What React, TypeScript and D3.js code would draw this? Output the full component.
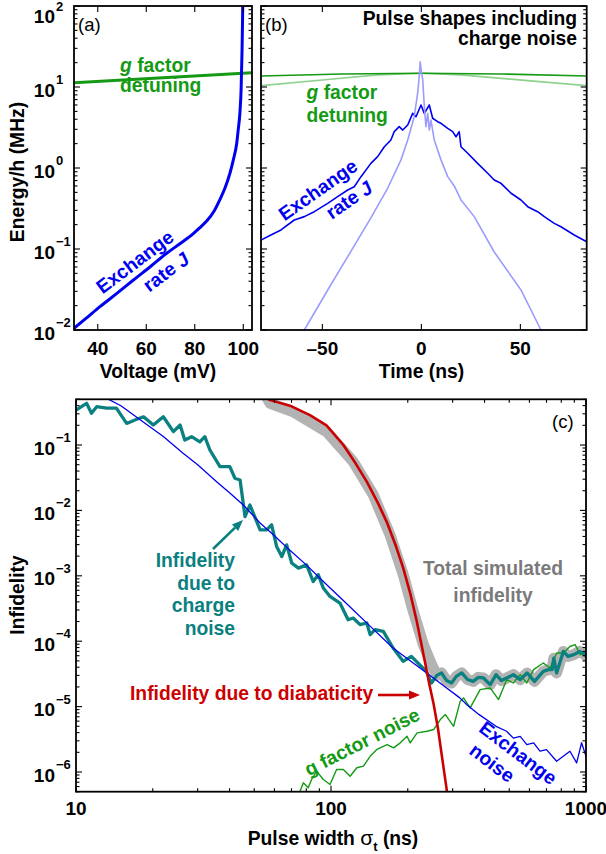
import * as d3 from 'd3';

const FONT = '"Liberation Sans", Arial, Helvetica, sans-serif';
const BLUE = '#0000f0';
const LIGHT_BLUE = '#9c9cff';
const GREEN = '#159a15';
const LIGHT_GREEN = '#8fd28f';
const TEAL = '#0b8080';
const RED = '#cc0000';
const GRAY = '#b3b3b3';

// ---- panel (a): energies vs gate voltage
const voltage = [30.2, 35, 40.9, 48, 54.7, 62, 68.4, 74, 79.4, 82, 84.9, 88, 90.4, 92.5, 94.5, 95.9, 97.3, 97.9, 98.6, 99.1, 99.5, 99.7, 99.85];
const exchangeJ = [0.0105, 0.0138, 0.0194, 0.0285, 0.0414, 0.0617, 0.0885, 0.117, 0.155, 0.182, 0.221, 0.295, 0.41, 0.57, 0.861, 1.26, 2.02, 2.94, 4.73, 9.2, 28.6, 67, 140];
const gVoltage = [30.2, 103.6];
const gDetuning = [11.3, 15.0];
const voltTicks = [40, 60, 80, 100];

// ---- panel (b): pulse shapes
const timeJ = [-81, -76, -70.9, -64.2, -59.1, -54.1, -47.3, -42.3, -37.2, -33.9, -30.5, -25.5, -22.1, -18.7, -15.4, -13.7, -11.2, -9.4, -6.9, -4.4, -2.7, -0.2, 1.5, 4.0, 5.7, 8.2, 9.9, 13.3, 15.8, 17.5, 19.1, 20.0, 23.4, 28.4, 33.5, 36.8, 40.2, 45.3, 50.3, 53.7, 58.7, 62.1, 67.1, 70.5, 77.2, 83.5];
const pulseJ = [0.129, 0.149, 0.172, 0.228, 0.251, 0.289, 0.366, 0.443, 0.535, 0.587, 0.782, 1.14, 1.38, 1.83, 2.22, 2.81, 3.24, 2.94, 3.40, 4.73, 4.30, 6.00, 4.73, 6.00, 4.11, 3.73, 3.56, 3.09, 2.81, 2.43, 2.81, 1.83, 1.52, 1.14, 0.861, 0.711, 0.647, 0.488, 0.403, 0.333, 0.289, 0.251, 0.207, 0.188, 0.149, 0.123];
const timeJNoisy = [-62, -59.1, -47.3, -37.2, -25.5, -17.0, -10.3, -6.9, -3.6, -1.9, -1.0, -0.6, -0.1, 0.7, 1.5, 2.3, 3.2, 4.0, 4.8, 6.5, 9.9, 13.3, 16.6, 20, 26.7, 36.8, 50.3, 60.4, 63];
const pulseJNoisy = [0.0075, 0.01, 0.0312, 0.0804, 0.242, 0.566, 1.26, 2.22, 4.30, 8.36, 14.1, 20.5, 16.2, 12.2, 5.71, 3.24, 4.73, 2.94, 3.92, 2.22, 1.26, 0.782, 0.600, 0.403, 0.251, 0.0918, 0.0312, 0.01, 0.0075];
const timeG = [-81, -40, 0, 40, 83.5];
const pulseG = [13.7, 14.5, 14.8, 14.5, 13.7];
const timeGNoisy = [-81, -47.3, -22.1, 0, 20, 53.7, 83.5];
const pulseGNoisy = [10.4, 12.4, 14.1, 14.8, 14.1, 12.0, 10.4];
const timeTicks = [-50, 0, 50];

// ---- panel (c): infidelity vs pulse width
const sigmaExchange = [12, 13.2, 15, 18.3, 22, 26.3, 30, 35.6, 40, 45.3, 52.7, 60, 69, 80, 96.2, 115, 140, 175, 220, 270, 320, 341, 380, 444, 488, 519, 552, 586, 623, 660, 700, 767, 865, 919, 961, 1000];
const exchangeNoise = [0.68, 0.516, 0.398, 0.227, 0.135, 0.0747, 0.050, 0.0275, 0.0186, 0.0121, 0.00644, 0.0041, 0.00245, 0.00147, 7.3e-4, 3.76e-4, 1.81e-4, 7.87e-5, 4.07e-5, 2.24e-5, 1.36e-5, 1.07e-5, 7.6e-6, 5.0e-6, 4.2e-6, 3.3e-6, 3.5e-6, 2.63e-6, 2.79e-6, 2.08e-6, 2.2e-6, 1.46e-6, 2.08e-6, 1.38e-6, 2.8e-6, 1.74e-6];
const sigmaCharge = [10, 11.0, 11.5, 12.05, 13.2, 14.4, 15.8, 17.2, 18.4, 20.1, 22.0, 24.1, 25.6, 26.7, 28.4, 30.6, 32.0, 33.5, 36.7, 40.1, 42.0, 44.0, 46.0, 48.1, 52.7, 55.9, 58.5, 61.2, 64.1, 67.0, 70.2, 74.5, 80.2, 85.2, 89.1, 93.3, 99.1, 108.4, 116.7, 122.2, 130, 138.1, 142.4, 148.9, 160.4, 175.2, 191.8, 206.6, 219.0, 236.6, 247.8, 260, 271.3, 284, 296.9, 310, 325.7, 343, 361, 378, 396, 421, 444, 466, 488.7, 519, 552, 587, 628, 680, 711, 736, 748, 767, 815, 850, 894, 945, 990, 1000];
const chargeNoise = [0.342, 0.434, 0.305, 0.385, 0.367, 0.367, 0.214, 0.245, 0.270, 0.202, 0.270, 0.160, 0.202, 0.119, 0.134, 0.112, 0.134, 0.0839, 0.0467, 0.0467, 0.0310, 0.0292, 0.00804, 0.0121, 0.00504, 0.00504, 0.00601, 0.00281, 0.00197, 0.00297, 0.00156, 0.00131, 0.00147, 8.18e-4, 0.00104, 6.49e-4, 4.83e-4, 3.83e-4, 2.13e-4, 2.26e-4, 1.79e-4, 1.90e-4, 1.26e-4, 1.50e-4, 1.41e-4, 7.87e-5, 4.92e-5, 5.86e-5, 4.65e-5, 3.46e-5, 2.30e-5, 3.0e-5, 3.27e-5, 2.5e-5, 2.30e-5, 2.9e-5, 3.27e-5, 2.6e-5, 2.43e-5, 2.8e-5, 2.74e-5, 2.17e-5, 3.08e-5, 2.5e-5, 2.74e-5, 3.08e-5, 2.58e-5, 3.27e-5, 2.43e-5, 3.46e-5, 3.67e-5, 3.67e-5, 5.5e-5, 3.27e-5, 6.98e-5, 5.86e-5, 6.22e-5, 6.98e-5, 6.22e-5, 6.0e-5];
const sigmaDiab = [54, 57.7, 69, 82.7, 96, 111.8, 125, 138.1, 152, 165.2, 180, 192, 205, 217, 225, 233.3, 243, 252.6, 263, 268.3, 276, 284.8, 290];
const diabaticity = [0.58, 0.486, 0.40, 0.287, 0.20, 0.10, 0.052, 0.0275, 0.0135, 0.00675, 0.0028, 0.00131, 5.2e-4, 2.0e-4, 1.0e-4, 4.92e-5, 2.2e-5, 1.1e-5, 4.5e-6, 2.6e-6, 1.2e-6, 5.1e-7, 3e-7];
const sigmaTotalUpper = [55, 57.7, 71.1, 96.1, 122.2, 146.5, 170.4, 192.1, 210.3, 230.2, 248.2];
const totalUpper = [0.6, 0.434, 0.322, 0.160, 0.0556, 0.0173, 0.00423, 0.00104, 2.85e-4, 8.85e-5, 4.38e-5];
const sigmaG = [73, 75.6, 77.9, 81.4, 83.9, 87.8, 93.3, 99.1, 105.2, 111.8, 118.8, 126.3, 134, 142.4, 151.3, 166, 176, 186.9, 198.6, 204.5, 217.5, 238.2, 252.7, 268.3, 280.8, 302.6, 321, 330.8, 351.4, 384.4, 421, 454, 488.7, 519, 552, 586, 623, 680, 723, 767, 815, 865, 906, 950, 1000];
const gNoise = [4e-7, 5.1e-7, 6.84e-7, 5.75e-7, 7.68e-7, 1.03e-6, 7.68e-7, 6.45e-7, 1.09e-6, 1.09e-6, 8.63e-7, 1.16e-6, 1.23e-6, 1.74e-6, 2.21e-6, 2.63e-6, 2.34e-6, 2.79e-6, 3.52e-6, 2.79e-6, 3.96e-6, 4.2e-6, 4.46e-6, 6.34e-6, 7.55e-6, 5.0e-6, 1.2e-5, 1.36e-5, 9.55e-6, 1.82e-5, 1.93e-5, 1.28e-5, 2.58e-5, 2.3e-5, 3.08e-5, 2.3e-5, 3.67e-5, 4.65e-5, 3.89e-5, 6.6e-5, 6.6e-5, 8.3e-5, 8.85e-5, 6.22e-5, 6.98e-5];
const sigmaTicks = [10, 100, 1000];

// the total follows the diabatic fall-off, then the charge-noise floor
const sigmaTotal = [...sigmaTotalUpper, ...sigmaCharge.filter((s) => s >= 260)];
const totalInfidelity = [...totalUpper, ...chargeNoise.filter((_, i) => sigmaCharge[i] >= 260)];

// panel boxes
const A = { x0: 74, x1: 252, y0: 6, y1: 330 };
const B = { x0: 261, x1: 586.7, y0: 6, y1: 330 };
const C = { x0: 76, x1: 586, y0: 399.3, y1: 791.7 };

const xA = d3.scaleLinear().domain([30.2, 103.6]).range([A.x0, A.x1]);
const yE = d3.scaleLog().domain([1e-2, 1e2]).range([A.y1, A.y0]);
const xB = d3.scaleLinear().domain([-81, 83.5]).range([B.x0, B.x1]);
const xC = d3.scaleLog().domain([10, 1000]).range([C.x0, C.x1]);
const yC = d3.scaleLog().domain([5e-7, 0.5]).range([C.y1, C.y0]);

type Sc = (v: number) => number;

const linePath = (xs: number[], ys: number[], sx: Sc, sy: Sc, smooth = false) => {
  const gen = d3
    .line<number>()
    .x((i) => sx(xs[i]))
    .y((i) => sy(ys[i]));
  if (smooth) gen.curve(d3.curveMonotoneX);
  return gen(xs.map((_, i) => i)) || '';
};

function logTicks(scale: any) {
  const [d0, d1] = scale.domain();
  const out: { pos: number; len: number; v: number; major: boolean }[] = [];
  for (let e = Math.floor(Math.log10(d0)); e <= Math.ceil(Math.log10(d1)); e++) {
    for (let k = 1; k < 10; k++) {
      const v = k * Math.pow(10, e);
      if (v >= d0 * 0.999 && v <= d1 * 1.001) out.push({ pos: scale(v), len: k === 1 ? 6 : 3.5, v, major: k === 1 });
    }
  }
  return out;
}

function Frame({ box, xt, yt }: { box: typeof A; xt: { pos: number; len: number }[]; yt: { pos: number; len: number }[] }) {
  const { x0, x1, y0, y1 } = box;
  return (
    <g stroke="#000" strokeWidth={1.1}>
      {xt.map((t, i) => (
        <g key={'x' + i}>
          <line x1={t.pos} x2={t.pos} y1={y1} y2={y1 - t.len} />
          <line x1={t.pos} x2={t.pos} y1={y0} y2={y0 + t.len} />
        </g>
      ))}
      {yt.map((t, i) => (
        <g key={'y' + i}>
          <line x1={x0} x2={x0 + t.len} y1={t.pos} y2={t.pos} />
          <line x1={x1} x2={x1 - t.len} y1={t.pos} y2={t.pos} />
        </g>
      ))}
      <rect x={x0} y={y0} width={x1 - x0} height={y1 - y0} fill="none" strokeWidth={1.8} />
    </g>
  );
}

function Pow10({ y, exp, minBase = 0 }: { y: number; exp: number; minBase?: number }) {
  const base = Math.max(y + 9.5, minBase);
  return (
    <g fontWeight="bold" fill="#000">
      <text x={55} y={base} textAnchor="end" fontSize={19}>10</text>
      <text x={56} y={base - 12.5} fontSize={13}>{exp < 0 ? '\u2212' + -exp : exp}</text>
    </g>
  );
}

function Arrow({ x1, y1, x2, y2, color }: { x1: number; y1: number; x2: number; y2: number; color: string }) {
  const a = Math.atan2(y2 - y1, x2 - x1);
  const L = 11, Wd = 4.5;
  const bx = x2 - L * Math.cos(a), by = y2 - L * Math.sin(a);
  const p = [
    [x2, y2],
    [bx + Wd * Math.sin(a), by - Wd * Math.cos(a)],
    [bx - Wd * Math.sin(a), by + Wd * Math.cos(a)],
  ];
  return (
    <g>
      <line x1={x1} y1={y1} x2={bx} y2={by} stroke={color} strokeWidth={2.6} />
      <polygon points={p.map((q) => q.join(',')).join(' ')} fill={color} />
    </g>
  );
}

export default function App() {
  const yTicksE = logTicks(yE);
  const yTicksC = logTicks(yC);
  const xTicksC = logTicks(xC);
  const xTicksA = voltTicks.map((v) => ({ pos: xA(v), len: 6 }));
  const xTicksB = timeTicks.map((v) => ({ pos: xB(v), len: 6 }));
  const FS = 19.3;

  return (
    <svg
      width={606}
      height={854}
      style={{ position: 'absolute', left: 0, top: 0, background: '#fff' }}
      fontFamily={FONT}
    >
      <defs>
        <clipPath id="clipA"><rect x={A.x0} y={A.y0} width={A.x1 - A.x0} height={A.y1 - A.y0} /></clipPath>
        <clipPath id="clipB"><rect x={B.x0} y={B.y0} width={B.x1 - B.x0} height={B.y1 - B.y0} /></clipPath>
        <clipPath id="clipC"><rect x={C.x0} y={C.y0} width={C.x1 - C.x0} height={C.y1 - C.y0} /></clipPath>
      </defs>
      <rect width={606} height={854} fill="#fff" />

      {/* ---------- (a) ---------- */}
      <g clipPath="url(#clipA)" fill="none" strokeLinejoin="round">
        <path d={linePath(gVoltage, gDetuning, xA, yE)} stroke={GREEN} strokeWidth={3} />
        <path d={linePath(voltage, exchangeJ, xA, yE, true)} stroke={BLUE} strokeWidth={3} />
      </g>
      <Frame box={A} xt={xTicksA} yt={yTicksE} />
      {yTicksE.filter((t) => t.major).map((t) => (
        <Pow10 key={t.v} y={t.pos} exp={Math.round(Math.log10(t.v))} minBase={23} />
      ))}
      {voltTicks.map((v) => (
        <text key={v} x={xA(v)} y={355} textAnchor="middle" fontSize={19} fontWeight="bold">{v}</text>
      ))}
      <text x={158} y={378} textAnchor="middle" fontSize={FS} fontWeight="bold">Voltage (mV)</text>
      <text transform="translate(17,172) rotate(-90)" textAnchor="middle" dominantBaseline="central" fontSize={FS} fontWeight="bold">
        Energy/h (MHz)
      </text>
      <text x={78} y={31} fontSize={18.5}>(a)</text>
      <g fill={GREEN} fontSize={FS} fontWeight="bold">
        <text x={120} y={72}><tspan fontStyle="italic">g</tspan> factor</text>
        <text x={120} y={92}>detuning</text>
      </g>
      <g fill={BLUE} fontSize={FS} fontWeight="bold" textAnchor="middle" dominantBaseline="central">
        <text transform="translate(135,262) rotate(-37)">Exchange</text>
        <text transform="translate(166,272) rotate(-37)">rate <tspan fontStyle="italic">J</tspan></text>
      </g>

      {/* ---------- (b) ---------- */}
      <g clipPath="url(#clipB)" fill="none" strokeLinejoin="round">
        <path d={linePath(timeGNoisy, pulseGNoisy, xB, yE)} stroke={LIGHT_GREEN} strokeWidth={1.6} />
        <path d={linePath(timeG, pulseG, xB, yE)} stroke={GREEN} strokeWidth={1.6} />
        <path d={linePath(timeJ, pulseJ, xB, yE)} stroke={BLUE} strokeWidth={1.6} />
        <path d={linePath(timeJNoisy, pulseJNoisy, xB, yE)} stroke={LIGHT_BLUE} strokeWidth={1.6} />
      </g>
      <Frame box={B} xt={xTicksB} yt={yTicksE} />
      {timeTicks.map((v) => (
        <text key={v} x={xB(v)} y={355} textAnchor="middle" fontSize={19} fontWeight="bold">
          {v < 0 ? '\u2013' + -v : v}
        </text>
      ))}
      <text x={421.5} y={378} textAnchor="middle" fontSize={FS} fontWeight="bold">Time (ns)</text>
      <text x={265} y={31} fontSize={18.5}>(b)</text>
      <g fontSize={FS} fontWeight="bold" textAnchor="end">
        <text x={577} y={25}>Pulse shapes including</text>
        <text x={577} y={45}>charge noise</text>
      </g>
      <g fill={GREEN} fontSize={FS} fontWeight="bold">
        <text x={306.5} y={99}><tspan fontStyle="italic">g</tspan> factor</text>
        <text x={306.5} y={122}>detuning</text>
      </g>
      <g fill={BLUE} fontSize={FS} fontWeight="bold" textAnchor="middle" dominantBaseline="central">
        <text transform="translate(318,190) rotate(-35)">Exchange</text>
        <text transform="translate(349,200) rotate(-35)">rate <tspan fontStyle="italic">J</tspan></text>
      </g>

      {/* ---------- (c) ---------- */}
      <g clipPath="url(#clipC)" fill="none" strokeLinejoin="round" strokeLinecap="round">
        <path d={linePath(sigmaTotal, totalInfidelity, xC, yC)} stroke={GRAY} strokeWidth={11} />
        <path d={linePath(sigmaG, gNoise, xC, yC)} stroke={GREEN} strokeWidth={1.4} />
        <path d={linePath(sigmaCharge, chargeNoise, xC, yC)} stroke={TEAL} strokeWidth={3.3} />
        <path d={linePath(sigmaExchange, exchangeNoise, xC, yC)} stroke={BLUE} strokeWidth={1.3} />
        <path d={linePath(sigmaDiab, diabaticity, xC, yC)} stroke={RED} strokeWidth={2.6} />
      </g>
      <Frame box={C} xt={xTicksC} yt={yTicksC} />
      {yTicksC.filter((t) => t.major).map((t) => (
        <Pow10 key={t.v} y={t.pos} exp={Math.round(Math.log10(t.v))} />
      ))}
      {sigmaTicks.map((v) => (
        <text key={v} x={xC(v)} y={815} textAnchor="middle" fontSize={19} fontWeight="bold">{v}</text>
      ))}
      <text x={333} y={845} textAnchor="middle" fontSize={FS} fontWeight="bold">
        Pulse width <tspan fontWeight="normal" fontSize={21}>σ</tspan>
        <tspan fontSize={13} dy={6}>t</tspan>
        <tspan dy={-6}> (ns)</tspan>
      </text>
      <text transform="translate(17,595) rotate(-90)" textAnchor="middle" dominantBaseline="central" fontSize={FS} fontWeight="bold">
        Infidelity
      </text>
      <text x={552} y={428} fontSize={18.5}>(c)</text>

      <g fill={TEAL} fontSize={FS} fontWeight="bold" textAnchor="end">
        <text x={235} y={567}>Infidelity</text>
        <text x={235} y={589.5}>due to</text>
        <text x={235} y={612}>charge</text>
        <text x={235} y={634.5}>noise</text>
      </g>
      <Arrow x1={213} y1={549} x2={243} y2={520} color={TEAL} />

      <text x={130} y={700} fill={RED} fontSize={FS} fontWeight="bold">Infidelity due to diabaticity</text>
      <Arrow x1={378} y1={695} x2={420} y2={695} color={RED} />

      <g fill="#7a7a7a" fontSize={FS} fontWeight="bold" textAnchor="middle">
        <text x={493} y={575}>Total simulated</text>
        <text x={493} y={602}>infidelity</text>
      </g>
      <text transform="translate(362,742) rotate(-27)" textAnchor="middle" dominantBaseline="central" fill={GREEN} fontSize={FS} fontWeight="bold">
        g factor noise
      </text>
      <g fill={BLUE} fontSize={FS} fontWeight="bold" textAnchor="middle" dominantBaseline="central">
        <text transform="translate(518,753) rotate(37)">Exchange</text>
        <text transform="translate(492,763) rotate(37)">noise</text>
      </g>
    </svg>
  );
}
